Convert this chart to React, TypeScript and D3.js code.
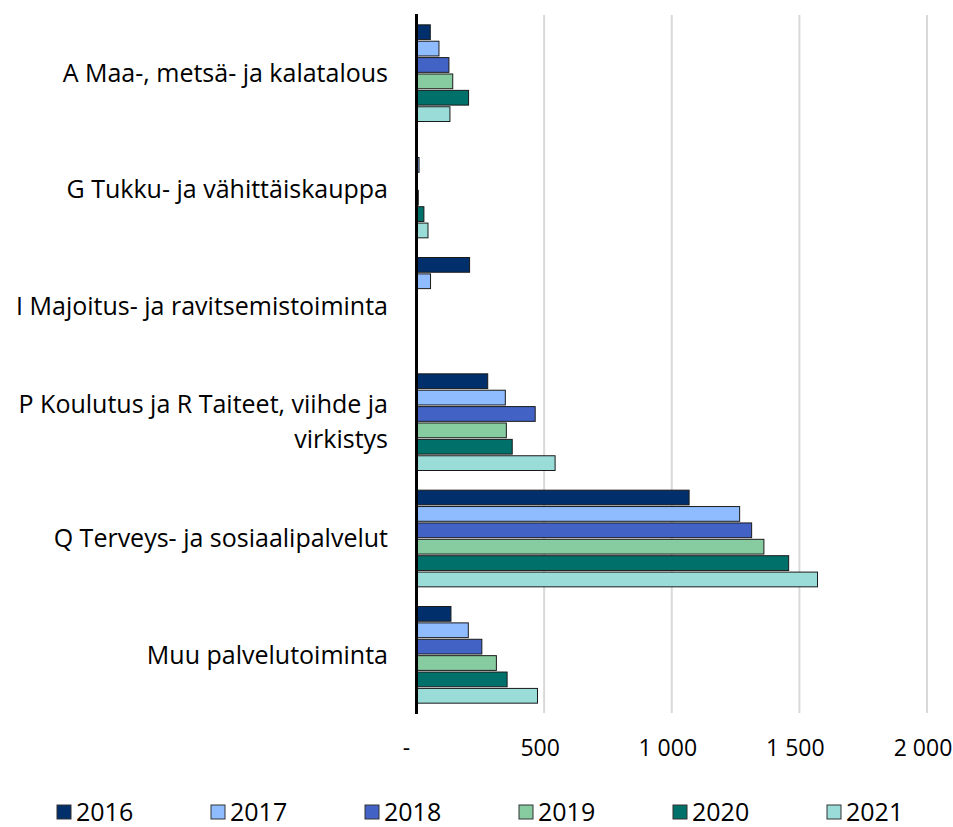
import React from "react";
import * as d3 from "d3";

const categories = [
  ["A Maa-, metsä- ja kalatalous"],
  ["G Tukku- ja vähittäiskauppa"],
  ["I Majoitus- ja ravitsemistoiminta"],
  ["P Koulutus ja R Taiteet, viihde ja", "virkistys"],
  ["Q Terveys- ja sosiaalipalvelut"],
  ["Muu palvelutoiminta"],
];
const years = ["2016", "2017", "2018", "2019", "2020", "2021"];
const colors = ["#002f6c", "#8fbcff", "#4263c5", "#87cba0", "#00706b", "#9adcd8"];
// values[categoryIndex][yearIndex]
const vA = [54, 88, 127, 142, 204, 131];
const vG = [0, 10, 0, 7, 29, 45];
const vI = [208, 55, 0, 2, 2, 2];
const vP = [279, 348, 465, 352, 375, 543];
const vQ = [1068, 1266, 1313, 1361, 1458, 1571];
const vM = [135, 203, 256, 313, 355, 474];
const values = [vA, vG, vI, vP, vQ, vM];
const ticks = [0, 500, 1000, 1500, 2000];
const tickLabels = ["-", "500", "1 000", "1 500", "2 000"];

const W = 953;
const H = 827;
const FONT = "'Open Sans', sans-serif";
const FS = 25;

export default function App() {
  const x = d3.scaleLinear().domain([0, 2000]).range([416.5, 927]);
  const catIdx = categories.map((_, i) => String(i));
  const y0 = d3.scaleBand().domain(catIdx).range([15, 713]).padding(0);
  const y1 = d3
    .scaleBand()
    .domain(years)
    .range([0, y0.bandwidth()])
    .paddingInner(0.1)
    .paddingOuter(0.6);

  return (
    <div style={{ position: "absolute", left: 0, top: 0 }}>
      <svg width={W} height={H} style={{ display: "block", background: "#fff" }}>
        {ticks.slice(1).map((t) => (
          <line key={t} x1={x(t)} x2={x(t)} y1={15} y2={713} stroke="#d9d9d9" strokeWidth={2} />
        ))}
        {values.map((row, ci) => (
          <g key={ci} transform={`translate(0,${y0(String(ci))})`}>
            {row.map((v, yi) => (
              <rect
                key={yi}
                x={x(0)}
                y={y1(years[yi])}
                width={Math.max(0, x(v) - x(0))}
                height={y1.bandwidth()}
                fill={colors[yi]}
                stroke="#1a1a1a"
                strokeWidth={1}
              />
            ))}
          </g>
        ))}
        <line x1={x(0)} x2={x(0)} y1={14} y2={714} stroke="#000" strokeWidth={3} />
        {categories.map((lines, ci) => {
          const cy = (y0(String(ci)) as number) + y0.bandwidth() / 2;
          const lh = 35;
          const start = cy - ((lines.length - 1) * lh) / 2;
          return (
            <text key={ci} textAnchor="end" fontFamily={FONT} fontSize={FS} fill="#000">
              {lines.map((l, li) => (
                <tspan key={li} x={388} y={start + li * lh} dy="0.35em">
                  {l}
                </tspan>
              ))}
            </text>
          );
        })}
        {ticks.map((t, i) => (
          <text
            key={t}
            x={t === 0 ? x(t) - 10 : x(t) - 4}
            y={748}
            dy="0.35em"
            textAnchor="middle"
            fontFamily={FONT}
            fontSize={23}
            fill="#000"
          >
            {tickLabels[i]}
          </text>
        ))}
        {years.map((yr, i) => {
          const lx = 57 + i * 154;
          return (
            <g key={yr}>
              <rect x={lx} y={805} width={14} height={14} fill={colors[i]} stroke="#333" strokeWidth={1} />
              <text x={lx + 19} y={812} dy="0.35em" fontFamily={FONT} fontSize={FS} fill="#000">
                {yr}
              </text>
            </g>
          );
        })}
      </svg>
    </div>
  );
}
